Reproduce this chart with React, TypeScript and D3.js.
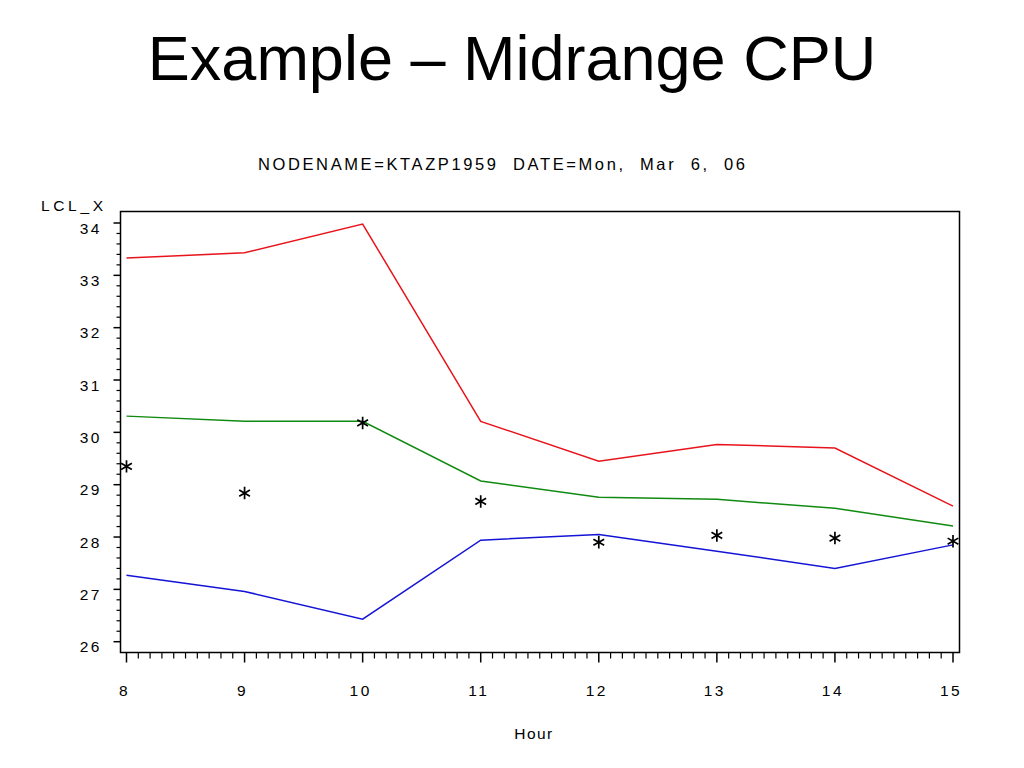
import React from "react";
import * as d3 from "d3";

const hours = [8, 9, 10, 11, 12, 13, 14, 15];
const uclValues = [33.33, 33.43, 33.98, 30.21, 29.45, 29.77, 29.7, 28.59];
const meanValues = [30.31, 30.21, 30.21, 29.07, 28.76, 28.72, 28.55, 28.21];
const lclValues = [27.27, 26.96, 26.43, 27.94, 28.05, 27.73, 27.4, 27.85];
const observedValues = [29.35, 28.84, 30.18, 28.68, 27.9, 28.03, 27.98, 27.92];
const yTickValues = [26, 27, 28, 29, 30, 31, 32, 33, 34];

const FONT = "'Liberation Sans', Arial, sans-serif";

export default function App() {
  const W = 1024;
  const H = 768;
  const frame = { left: 120.5, right: 959.5, top: 211.5, bottom: 652.5 };
  const x = d3.scaleLinear().domain([8, 15]).range([126.5, 953]);
  const y = d3.scaleLinear().domain([26, 34]).range([641.7, 223]);

  const line = d3
    .line<number>()
    .x((_, i) => x(hours[i]))
    .y((d) => y(d));

  const yMinor: number[] = [];
  for (let v = 26; v < 34 - 1e-9; v += 1) {
    for (let k = 1; k < 5; k++) yMinor.push(v + k * 0.2);
  }
  const xMinor: number[] = [];
  for (let h = 8; h < 15; h++) {
    for (let k = 1; k < 10; k++) xMinor.push(h + k * 0.1);
  }

  const r = 6.2;
  const starPath = (cx: number, cy: number) => {
    const parts: string[] = [];
    for (let a = 0; a < 3; a++) {
      const ang = (Math.PI / 3) * a + Math.PI / 2;
      const dx = Math.cos(ang) * r;
      const dy = Math.sin(ang) * r;
      parts.push(`M${cx - dx},${cy - dy}L${cx + dx},${cy + dy}`);
    }
    return parts.join("");
  };

  return (
    <svg
      width={W}
      height={H}
      style={{ position: "absolute", left: 0, top: 0, background: "#fff" }}
      fontFamily={FONT}
    >
      <rect x={0} y={0} width={W} height={H} fill="#fff" />
      <text x={512} y={80} textAnchor="middle" fontSize={63} fill="#000">
        Example – Midrange CPU
      </text>
      <text
        x={258}
        y={170}
        fontSize={16.5}
        fill="#000"
        textLength={487}
        lengthAdjust="spacing"
        style={{ whiteSpace: "pre" }}
      >
        {"NODENAME=KTAZP1959  DATE=Mon,  Mar  6,  06"}
      </text>

      {/* frame */}
      <rect
        x={frame.left}
        y={frame.top}
        width={frame.right - frame.left}
        height={frame.bottom - frame.top}
        fill="none"
        stroke="#000"
        strokeWidth={1.5}
      />

      {/* y axis */}
      <text x={41} y={211} fontSize={15.5} fill="#000" textLength={62} lengthAdjust="spacing">
        LCL_X
      </text>
      {yTickValues.map((v) => (
        <g key={"yt" + v}>
          <line x1={frame.left - 7} x2={frame.left} y1={y(v)} y2={y(v)} stroke="#000" strokeWidth={1.5} />
          <text
            x={102}
            y={y(v) + 10.5}
            textAnchor="end"
            fontSize={15.5}
            letterSpacing={2.5}
            fill="#000"
          >
            {String(v)}
          </text>
        </g>
      ))}
      {yMinor.map((v, i) => (
        <line key={"ym" + i} x1={frame.left - 4} x2={frame.left} y1={y(v)} y2={y(v)} stroke="#000" strokeWidth={1.2} />
      ))}

      {/* x axis */}
      {hours.map((h) => (
        <g key={"xt" + h}>
          <line x1={x(h)} x2={x(h)} y1={frame.bottom} y2={frame.bottom + 10} stroke="#000" strokeWidth={1.5} />
          <text x={x(h) - 2} y={696} textAnchor="middle" fontSize={15.5} letterSpacing={2.5} fill="#000">
            {String(h)}
          </text>
        </g>
      ))}
      {xMinor.map((h, i) => (
        <line key={"xm" + i} x1={x(h)} x2={x(h)} y1={frame.bottom} y2={frame.bottom + 6} stroke="#000" strokeWidth={1.2} />
      ))}
      <text x={534} y={739} textAnchor="middle" fontSize={15.5} letterSpacing={1.5} fill="#000">
        Hour
      </text>

      {/* series */}
      <path d={line(uclValues) || ""} fill="none" stroke="#e8141b" strokeWidth={1.5} />
      <path d={line(meanValues) || ""} fill="none" stroke="#118a11" strokeWidth={1.5} />
      <path d={line(lclValues) || ""} fill="none" stroke="#1414d6" strokeWidth={1.5} />
      {observedValues.map((v, i) => (
        <path key={"st" + i} d={starPath(x(hours[i]), y(v))} stroke="#000" strokeWidth={1.7} fill="none" />
      ))}
    </svg>
  );
}
